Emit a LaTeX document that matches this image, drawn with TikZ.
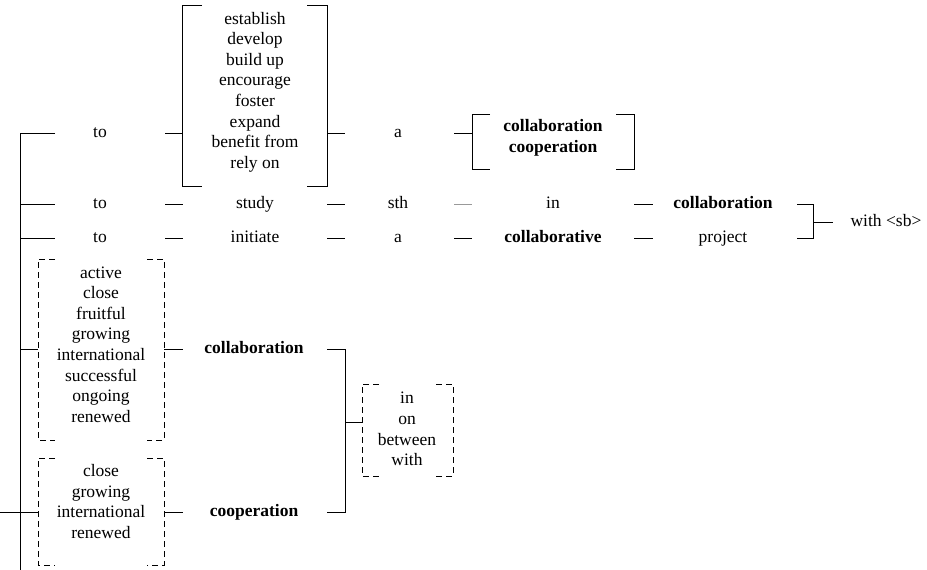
\documentclass[tikz,border=0pt]{standalone}
\usepackage{fontspec}
\setmainfont{Liberation Serif}
\newcommand{\txtsize}{\fontsize{17.5}{20.6}\selectfont}
% open bracket pair: [style]{left x}{right x}{top y}{bottom y}{tick length}
\newcommand{\bracketpair}[6][]{%
  \draw[#1] (#2+#6,#4) -- (#2,#4) -- (#2,#5) -- (#2+#6,#5);
  \draw[#1] (#3-#6,#4) -- (#3,#4) -- (#3,#5) -- (#3-#6,#5);}
\begin{document}
\begin{tikzpicture}[x=1pt,y=-1pt,
  every node/.style={font=\txtsize, inner sep=0pt},
  word/.style={text height=12pt, text depth=4pt},
  key/.style={word, font=\txtsize\bfseries},
  list/.style={align=center},
  link/.style={line width=0.9pt},
  faint/.style={link, draw=black!40},
  solidbox/.style={line width=0.9pt},
  dashbox/.style={line width=0.8pt, dash pattern=on 6pt off 4pt}]
\useasboundingbox (0,0) rectangle (927,570);

% column gaps that hold the short connecting strokes
\coordinate (s) at (20,0);   \coordinate (g0) at (55,0);
\coordinate (g1a) at (165,0); \coordinate (g1b) at (183,0);
\coordinate (g2a) at (327,0); \coordinate (g2b) at (345,0);
\coordinate (g3a) at (454,0); \coordinate (g3b) at (472,0);
\coordinate (g4a) at (634,0); \coordinate (g4b) at (653,0);
\coordinate (g5a) at (797,0); \coordinate (g5b) at (813,0);
\coordinate (bl) at (38,0);   \coordinate (br) at (164,0);
\coordinate (pl) at (362,0);  \coordinate (edge) at (0,0);

% ---- row 1
\node[word] (to1) at (100,133) {to};
\node[list] (verbs) at (255,92) {establish\\develop\\build up\\encourage\\foster\\expand\\benefit from\\rely on};
\node[word] (a1) at (398,133) {a};
\node[list, font=\txtsize\bfseries] (nouns) at (553,138) {collaboration\\cooperation};
\bracketpair[solidbox]{182}{327}{5}{186}{20}
\bracketpair[solidbox]{472}{634}{114}{169}{18}

% ---- row 2
\node[word] (to2) at (100,204) {to};
\node[word] (study) at (255,204) {study};
\node[word] (sth) at (398,204) {sth};
\node[word] (in2) at (553,204) {in};
\node[key] (collab2) at (723,204) {collaboration};

% ---- row 3
\node[word] (to3) at (100,238) {to};
\node[word] (initiate) at (255,238) {initiate};
\node[word] (a3) at (398,238) {a};
\node[key] (collabve) at (553,238) {collaborative};
\node[word] (project) at (723,238) {project};

\node[word] (withsb) at (886,222) {with <sb>};
\coordinate (join) at (813,222);

% ---- lower block
\node[list] (adj1) at (101,344.5) {active\\close\\fruitful\\growing\\international\\successful\\ongoing\\renewed};
\node[list] (adj2) at (101,501.5) {close\\growing\\international\\renewed};
\node[key] (collab4) at (254,349) {collaboration};
\node[key] (coop4) at (254,512) {cooperation};
\node[list] (preps) at (407,429) {in\\on\\between\\with};
\bracketpair[dashbox]{38}{164}{259}{440}{17}
\bracketpair[dashbox]{38}{164}{458}{565}{17}
\bracketpair[dashbox]{362}{453}{384}{476}{17}
\coordinate (spineTop) at (20,133);
\coordinate (spineEnd) at (20,570);
\coordinate (fork) at (345,422);

% ---- connectors
\draw[link] (g0 |- to1) -- (spineTop) -- (spineEnd);
\draw[link] (g1a |- to1) -- (g1b |- to1);
\draw[link] (g2a |- a1) -- (g2b |- a1);
\draw[link] (g3a |- a1) -- (g3b |- a1);

\draw[link] (s |- to2) -- (g0 |- to2);
\draw[link] (g1a |- study) -- (g1b |- study);
\draw[link] (g2a |- sth) -- (g2b |- sth);
\draw[faint] (g3a |- sth) -- (g3b |- sth);
\draw[link] (g4a |- collab2) -- (g4b |- collab2);

\draw[link] (s |- to3) -- (g0 |- to3);
\draw[link] (g1a |- initiate) -- (g1b |- initiate);
\draw[link] (g2a |- a3) -- (g2b |- a3);
\draw[link] (g3a |- a3) -- (g3b |- a3);
\draw[link] (g4a |- project) -- (g4b |- project);

\draw[link] (g5a |- collab2) -- (g5b |- collab2) -- (g5b |- project) -- (g5a |- project);
\draw[link] (join) -- ++(20,0);

\draw[link] (s |- collab4) -- (bl |- collab4);
\draw[link] (br |- collab4) -- (g1b |- collab4);
\draw[link] (edge |- coop4) -- (bl |- coop4);
\draw[link] (br |- coop4) -- (g1b |- coop4);
\draw[link] (g2a |- collab4) -- (g2b |- collab4) -- (g2b |- coop4) -- (g2a |- coop4);
\draw[link] (fork) -- (pl |- fork);
\end{tikzpicture}
\end{document}
